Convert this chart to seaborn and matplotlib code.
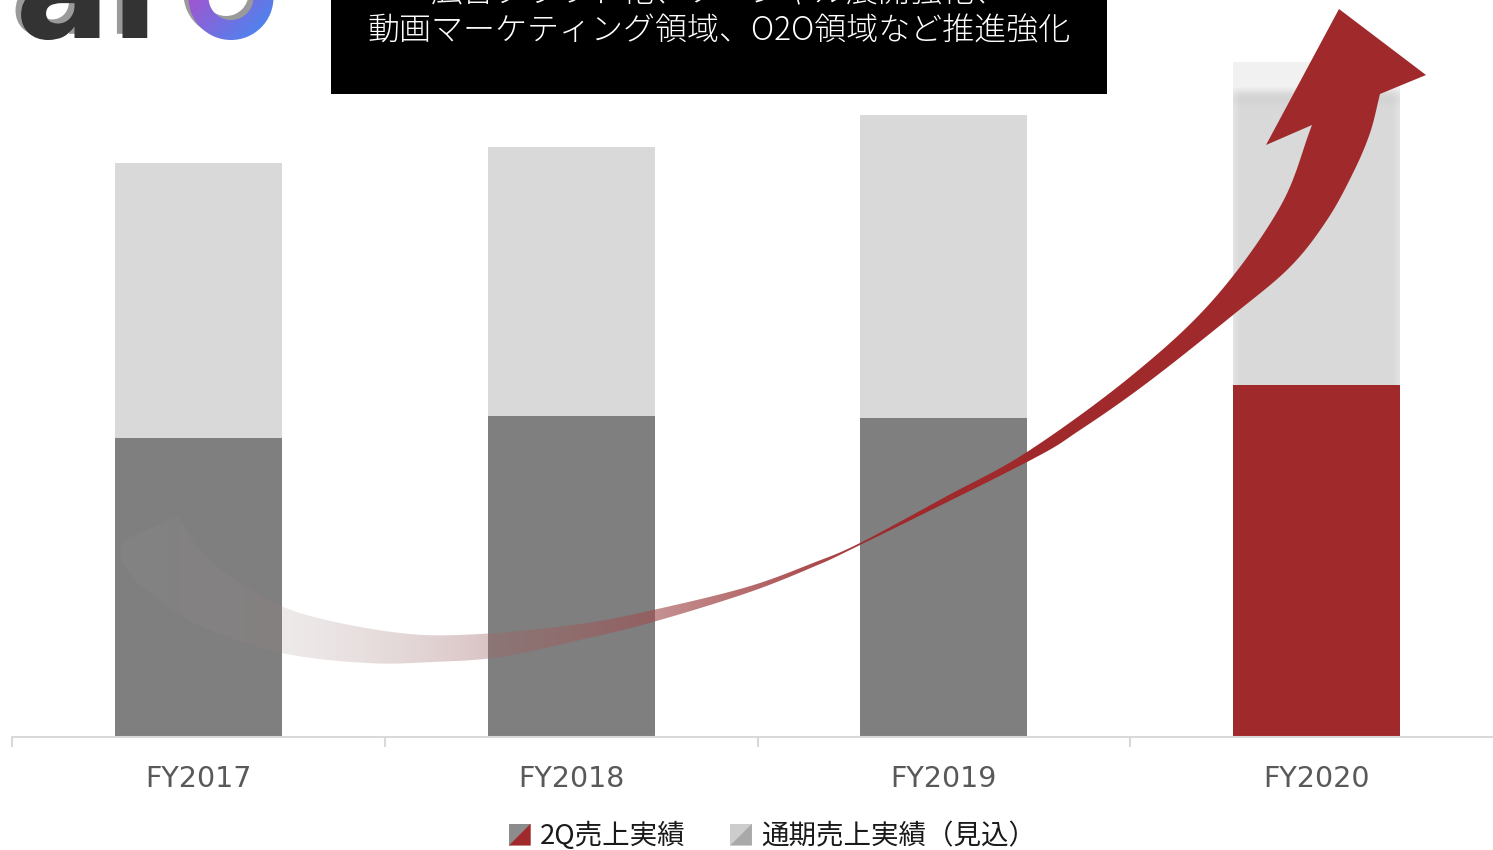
import numpy as np
import pandas as pd
import matplotlib
matplotlib.use('Agg')
import matplotlib.pyplot as plt
import seaborn as sns
from matplotlib.patches import Polygon, Rectangle, Wedge
from matplotlib.legend_handler import HandlerBase
import matplotlib.patheffects as pe

# ---------------- data ----------------
years = ['FY2017', 'FY2018', 'FY2019', 'FY2020']
full_year = [574, 590, 622, 675]      # 通期売上実績（見込）
q2_actual = [299, 321, 319, 352]      # 2Q売上実績
bar_colors = ['#7f7f7f', '#7f7f7f', '#7f7f7f', '#a0292b']
legend_labels = ['2Q売上実績', '通期売上実績（見込）']
headline = ['広告クラウド化、ソーシャル展開強化、', '動画マーケティング領域、O2O領域など推進強化']

RED = '#a0292b'

sns.set_theme(style='white')
plt.rcParams['font.family'] = ['Noto Sans CJK JP', 'DejaVu Sans']

W, H = 1493, 850
fig = plt.figure(figsize=(W / 100, H / 100), dpi=100)
ax = fig.add_axes([12 / W, (H - 737) / H, 1491 / W, 737 / H])
ax.set_zorder(0)

df = pd.DataFrame({'year': years, 'full': full_year, 'q2': q2_actual})
sns.barplot(data=df, x='year', y='full', color='#d9d9d9', width=0.448,
            linewidth=0, saturation=1, ax=ax, errorbar=None)
sns.barplot(data=df, x='year', y='q2', hue='year', palette=bar_colors, width=0.448,
            linewidth=0, saturation=1, legend=False, ax=ax, errorbar=None)
ax.set_xlim(-0.5, 3.5)
ax.set_ylim(0, 737)

# soft shading on the FY2020 forecast segment
p = ax.patches[3]
x0, w = p.get_x(), p.get_width()
top, bot = full_year[3], q2_actual[3]
ny, nx = 300, 160
yy = np.linspace(top, bot, ny)[:, None]          # row 0 at top
xx = np.linspace(0, 1, nx)[None, :]
depth = top - yy
val = np.full((ny, nx), 0.851)
cap = np.clip((32 - depth) / 8.0, 0, 1)
val = val * (1 - cap) + 0.949 * cap
dip = np.exp(-((depth - 38) / 5.0) ** 2) * 0.02
val = val - dip * (1 - cap)
edge = np.minimum(xx, 1 - xx) * w * 372.75
side = np.clip((7 - edge) / 7.0, 0, 1) * 0.04
val = np.clip(val + side * (1 - cap), 0, 1)
img = np.dstack([val, val, val])
ax.imshow(img, extent=[x0, x0 + w, bot, top], aspect='auto', origin='upper',
          zorder=p.get_zorder() + 0.1, interpolation='bilinear')
ax.set_xlim(-0.5, 3.5)
ax.set_ylim(0, 737)

for s in ['top', 'right', 'left']:
    ax.spines[s].set_visible(False)
ax.spines['bottom'].set_color('#d9d9d9')
ax.spines['bottom'].set_linewidth(1.5)
ax.set_yticks([])
ax.set_xlabel('')
ax.set_ylabel('')
ax.set_xticks([-0.5, 0.5, 1.5, 2.5, 3.5], minor=True)
ax.tick_params(axis='x', which='major', length=0, pad=20.5, labelsize=20.5,
               labelcolor='#595959', bottom=False)
ax.tick_params(axis='x', which='minor', length=7, width=1.5, color='#d9d9d9', bottom=True)
for lab in ax.get_xticklabels():
    lab.set_fontfamily('DejaVu Sans')

# ---------------- overlay (pixel coordinates) ----------------
ov = fig.add_axes([0, 0, 1, 1])
ov.set_zorder(1)
ov.patch.set_alpha(0)
ov.set_xlim(0, W)
ov.set_ylim(H, 0)
ov.axis('off')


def catmull(pts, n=16):
    P = np.array(pts, float)
    P = np.vstack([2 * P[0] - P[1], P, 2 * P[-1] - P[-2]])
    out = []
    for i in range(1, len(P) - 2):
        p0, p1, p2, p3 = P[i - 1], P[i], P[i + 1], P[i + 2]
        for s in np.linspace(0, 1, n, endpoint=False):
            out.append(0.5 * (2 * p1 + (-p0 + p2) * s + (2 * p0 - 5 * p1 + 4 * p2 - p3) * s ** 2
                              + (-p0 + 3 * p1 - 3 * p2 + p3) * s ** 3))
    out.append(P[-2])
    return [tuple(q) for q in out]


# curved arrow outline (figure pixels)
upper = [(178, 516), (200, 550), (240, 583), (300, 613), (400, 633), (480, 634), (580, 624),
         (653, 610), (747, 587), (813, 563), (860, 543), (947, 496), (1027, 452), (1130, 377),
         (1213, 300), (1280, 207), (1312, 125)]
head = [(1266, 145), (1339, 9), (1426, 75)]
lower = [(1380, 94), (1370, 133), (1353, 173), (1327, 220), (1290, 267), (1233, 315),
         (1147, 383), (1080, 430), (1027, 462), (860, 545), (813, 567), (747, 593),
         (653, 622), (580, 640), (500, 657), (433, 662), (367, 663), (282, 653), (200, 626),
         (160, 600), (133, 578), (121, 558), (122, 541)]
outline = catmull(upper) + head + catmull(lower)
arrow = Polygon(outline, closed=True, facecolor='none', edgecolor='none')
ov.add_patch(arrow)
gx = np.linspace(100, 1440, 1340)
t = np.clip((gx - 170) / (880 - 170), 0, 1)
c0 = np.array([0.63, 0.60, 0.60])
c1 = np.array([0.627, 0.161, 0.169])
cols = c0[None, :] * (1 - t[:, None]) + c1[None, :] * t[:, None]
alp = 0.12 + 0.88 * t ** 1.5
rgba = np.concatenate([cols, alp[:, None]], axis=1)[None, :, :].repeat(4, axis=0)
im = ov.imshow(rgba, extent=[100, 1440, 680, 0], aspect='auto', interpolation='bilinear', zorder=3)
im.set_clip_path(arrow)

# black headline box
ov.add_patch(Rectangle((331, -20), 776, 114, facecolor='black', edgecolor='none', zorder=4))
ov.text(719, -7, headline[0], color='white', fontsize=23, fontweight='light',
        ha='center', va='center', zorder=5)
ov.text(719, 31, headline[1], color='white', fontsize=23, fontweight='light',
        ha='center', va='center', zorder=5)

# logo fragment
ov.text(15, 38, 'ar', fontsize=102, fontweight='bold', family='DejaVu Sans', color='#333333',
        ha='left', va='baseline', zorder=5,
        path_effects=[pe.withSimplePatchShadow(offset=(-4, 3), shadow_rgbFace='#9a9a9a', alpha=1.0)])
ov.add_patch(Wedge((226, -6.5), 42.5, 0, 360, width=20, facecolor='#9a9a9a', edgecolor='none', zorder=5))
ring = Wedge((231, -2.5), 42.5, 0, 360, width=20, facecolor='none', edgecolor='none', zorder=6)
ov.add_patch(ring)
rx = np.linspace(186, 276, 90)
ry = np.linspace(-46, 42, 88)
RX, RY = np.meshgrid(rx, ry)
tt = np.clip(((RX - 186) + (RY + 46)) / 178, 0, 1)[..., None]
m = np.array([0.78, 0.25, 0.76])
b = np.array([0.23, 0.56, 0.96])
rimg = m * (1 - tt) + b * tt
rim = ov.imshow(rimg, extent=[186, 276, 42, -46], aspect='auto', origin='upper', zorder=6)
rim.set_clip_path(ring)
ov.set_xlim(0, W)
ov.set_ylim(H, 0)


# ---------------- legend ----------------
class DiagHandler(HandlerBase):
    def __init__(self, c_ul, c_lr):
        super().__init__()
        self.c_ul, self.c_lr = c_ul, c_lr

    def create_artists(self, legend, orig_handle, xdescent, ydescent, width, height, fontsize, trans):
        x0_, y0_ = -xdescent, -ydescent
        s = min(width, height)
        x0_ = x0_ + (width - s) / 2
        p1 = Polygon([[x0_, y0_], [x0_, y0_ + s], [x0_ + s, y0_ + s]], closed=True,
                     facecolor=self.c_ul, edgecolor='none', transform=trans)
        p2 = Polygon([[x0_, y0_], [x0_ + s, y0_ + s], [x0_ + s, y0_]], closed=True,
                     facecolor=self.c_lr, edgecolor='none', transform=trans)
        return [p1, p2]


h1 = Rectangle((0, 0), 1, 1)
h2 = Rectangle((0, 0), 1, 1)
fig.legend(handles=[h1, h2], labels=legend_labels, loc='center',
           bbox_to_anchor=(772 / W, (H - 836) / H), ncol=2, frameon=False,
           fontsize=19.8, handlelength=0.85, handleheight=0.85, handletextpad=0.3,
           columnspacing=1.6, labelcolor='#1a1a1a', borderpad=0,
           handler_map={h1: DiagHandler('#8c8c8c', RED), h2: DiagHandler('#cdcdcd', '#a9a9a9')})

fig.savefig('out.png', dpi=100)
